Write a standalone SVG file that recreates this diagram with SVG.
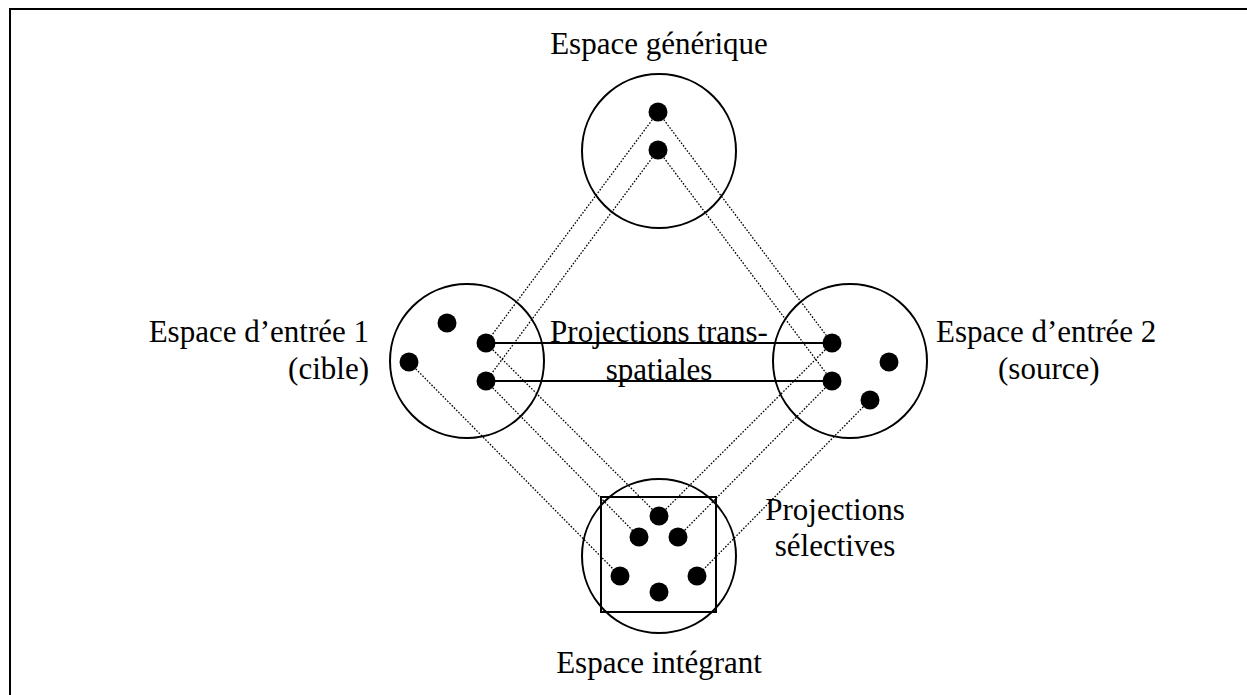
<svg xmlns="http://www.w3.org/2000/svg" width="1247" height="695" viewBox="0 0 1247 695">
<style>
.bg{fill:#fff}
.frame{fill:none;stroke:#000;stroke-width:2}
.space{fill:none;stroke:#000;stroke-width:2}
.dot{fill:#000}
.dotted{stroke:#000;stroke-width:1.3;stroke-dasharray:1.6 1.6;fill:none}
.solid{stroke:#000;stroke-width:2;fill:none}
text{font-family:"Liberation Serif","Times New Roman",serif;font-size:31px;fill:#000}
</style>
<rect class="bg" x="0" y="0" width="1247" height="695"/>
<path class="frame" d="M10,695 V9 H1247"/>
<g id="connectors">
  <line class="dotted" x1="658" y1="112" x2="486" y2="343"/>
  <line class="dotted" x1="658" y1="150" x2="486" y2="381"/>
  <line class="dotted" x1="658" y1="112" x2="832" y2="343"/>
  <line class="dotted" x1="658" y1="150" x2="832" y2="381"/>
  <line class="dotted" x1="486" y1="343" x2="659" y2="516"/>
  <line class="dotted" x1="486" y1="381" x2="639" y2="537"/>
  <line class="dotted" x1="409" y1="362" x2="620" y2="576"/>
  <line class="dotted" x1="832" y1="343" x2="659" y2="516"/>
  <line class="dotted" x1="832" y1="381" x2="678" y2="537"/>
  <line class="dotted" x1="870" y1="400" x2="697" y2="576"/>
  <line class="solid" x1="486" y1="343" x2="832" y2="343"/>
  <line class="solid" x1="486" y1="381" x2="832" y2="381"/>
</g>
<g id="generic">
  <circle class="space" cx="659" cy="151" r="77"/>
  <circle class="dot" cx="658" cy="112" r="9.5"/>
  <circle class="dot" cx="658" cy="150" r="9.5"/>
  <text x="659" y="54" text-anchor="middle">Espace générique</text>
</g>
<g id="input1">
  <circle class="space" cx="467" cy="361" r="77"/>
  <circle class="dot" cx="447" cy="323" r="9.5"/>
  <circle class="dot" cx="486" cy="343" r="9.5"/>
  <circle class="dot" cx="409" cy="362" r="9.5"/>
  <circle class="dot" cx="486" cy="381" r="9.5"/>
  <text x="369" y="342" text-anchor="end">Espace d’entrée 1</text>
  <text x="369" y="379" text-anchor="end">(cible)</text>
</g>
<g id="input2">
  <circle class="space" cx="850" cy="361" r="77"/>
  <circle class="dot" cx="832" cy="343" r="9.5"/>
  <circle class="dot" cx="832" cy="381" r="9.5"/>
  <circle class="dot" cx="889" cy="362" r="9.5"/>
  <circle class="dot" cx="870" cy="400" r="9.5"/>
  <text x="936" y="342">Espace d’entrée 2</text>
  <text x="998" y="379">(source)</text>
</g>
<g id="cross-label">
  <text x="659" y="342" text-anchor="middle">Projections trans-</text>
  <text x="659" y="380" text-anchor="middle">spatiales</text>
</g>
<g id="blend">
  <circle class="space" cx="659" cy="556" r="77"/>
  <rect class="space" x="601" y="497" width="115" height="115"/>
  <circle class="dot" cx="659" cy="516" r="9.5"/>
  <circle class="dot" cx="639" cy="537" r="9.5"/>
  <circle class="dot" cx="678" cy="537" r="9.5"/>
  <circle class="dot" cx="620" cy="576" r="9.5"/>
  <circle class="dot" cx="697" cy="576" r="9.5"/>
  <circle class="dot" cx="659" cy="592" r="9.5"/>
  <text x="659" y="673" text-anchor="middle">Espace intégrant</text>
</g>
<g id="selective-label">
  <text x="835" y="520" text-anchor="middle">Projections</text>
  <text x="835" y="556" text-anchor="middle">sélectives</text>
</g>
</svg>
